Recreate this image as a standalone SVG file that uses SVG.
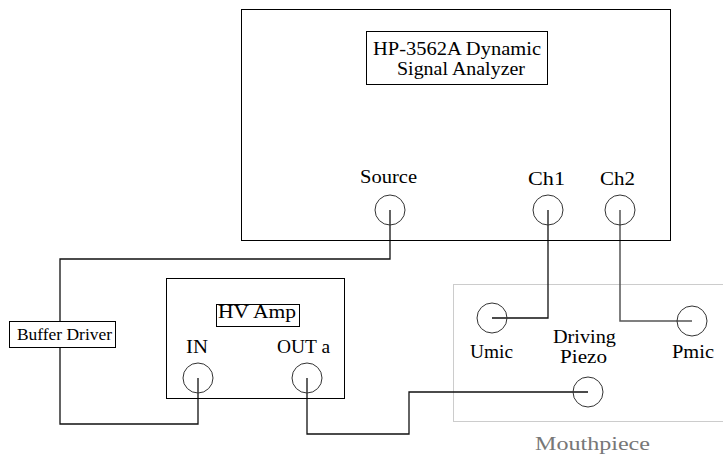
<svg xmlns="http://www.w3.org/2000/svg" width="723" height="455" viewBox="0 0 723 455">
<style>
.box{fill:none;stroke:#000;stroke-width:1}
.port{fill:none;stroke:#333;stroke-width:1}
.wire{fill:none;stroke:#111;stroke-width:1.3}
.wire2{fill:none;stroke:#555;stroke-width:1.5}
.t{font-family:'Liberation Serif','DejaVu Serif','Times New Roman',serif;font-size:19px;fill:#000}
.sm{font-size:16px}
.gray{fill:#777}
</style>
<rect width="723" height="455" fill="#fff"/>
<g id="mouthpiece">
<rect x="453.5" y="284.5" width="280" height="137" fill="none" stroke="#ccc" stroke-width="1"/>
<text class="t gray" x="535" y="450" textLength="115" lengthAdjust="spacingAndGlyphs" font-family="Liberation Serif, serif">Mouthpiece</text>
</g>
<g id="connectors">
<polyline class="wire" points="390,210 390,259 60,259 60,321"/>
<polyline class="wire" points="60,347 60,424 198,424 198,378"/>
<polyline class="wire" points="307,378 307,434 409,434 409,392 588,392"/>
<polyline class="wire" points="548,210 548,318 492,318"/>
<polyline class="wire2" points="620,210 620,321 692,321"/>
</g>
<g id="analyzer">
<rect class="box" x="241.5" y="9.5" width="429" height="231"/>
<rect class="box" x="366.5" y="31.5" width="181" height="53"/>
<text class="t" x="373" y="55" textLength="168" lengthAdjust="spacingAndGlyphs" font-family="Liberation Serif, serif">HP-3562A Dynamic</text>
<text class="t" x="397" y="75" textLength="128" lengthAdjust="spacingAndGlyphs" font-family="Liberation Serif, serif">Signal Analyzer</text>
</g>
<g id="source">
<text class="t" x="360" y="183" textLength="57" lengthAdjust="spacingAndGlyphs" font-family="Liberation Serif, serif">Source</text>
<circle class="port" cx="390" cy="210" r="15"/>
</g>
<g id="ch1">
<text class="t" x="528" y="185" textLength="37" lengthAdjust="spacingAndGlyphs" font-family="Liberation Serif, serif">Ch1</text>
<circle class="port" cx="548" cy="210" r="15"/>
</g>
<g id="ch2">
<text class="t" x="600" y="185" textLength="35" lengthAdjust="spacingAndGlyphs" font-family="Liberation Serif, serif">Ch2</text>
<circle class="port" cx="620" cy="210" r="15"/>
</g>
<g id="buffer-driver">
<rect x="9.5" y="321.5" width="106" height="26" fill="#fff" stroke="#000" stroke-width="1"/>
<text class="t sm" x="17" y="340" textLength="95" lengthAdjust="spacingAndGlyphs" font-family="Liberation Serif, serif">Buffer Driver</text>
</g>
<g id="hv-amp">
<rect class="box" x="166.5" y="278.5" width="178" height="120"/>
<rect class="box" x="216.5" y="304.5" width="83" height="22"/>
<text class="t" x="218" y="318" textLength="78" lengthAdjust="spacingAndGlyphs" font-family="Liberation Serif, serif">HV Amp</text>
</g>
<g id="in">
<text class="t" x="186" y="353" textLength="22" lengthAdjust="spacingAndGlyphs" font-family="Liberation Serif, serif">IN</text>
<circle class="port" cx="198" cy="378" r="15"/>
</g>
<g id="out-a">
<text class="t" x="277" y="353" textLength="53" lengthAdjust="spacingAndGlyphs" font-family="Liberation Serif, serif">OUT a</text>
<circle class="port" cx="307" cy="378" r="15"/>
</g>
<g id="umic">
<circle class="port" cx="492" cy="318" r="15"/>
<text class="t" x="470" y="358" textLength="43" lengthAdjust="spacingAndGlyphs" font-family="Liberation Serif, serif">Umic</text>
</g>
<g id="driving-piezo">
<text class="t" x="553" y="343" textLength="63" lengthAdjust="spacingAndGlyphs" font-family="Liberation Serif, serif">Driving</text>
<text class="t" x="560" y="363" textLength="47" lengthAdjust="spacingAndGlyphs" font-family="Liberation Serif, serif">Piezo</text>
<circle class="port" cx="588" cy="392" r="15"/>
</g>
<g id="pmic">
<circle class="port" cx="692" cy="321" r="15"/>
<text class="t" x="672" y="358" textLength="42" lengthAdjust="spacingAndGlyphs" font-family="Liberation Serif, serif">Pmic</text>
</g>
</svg>
